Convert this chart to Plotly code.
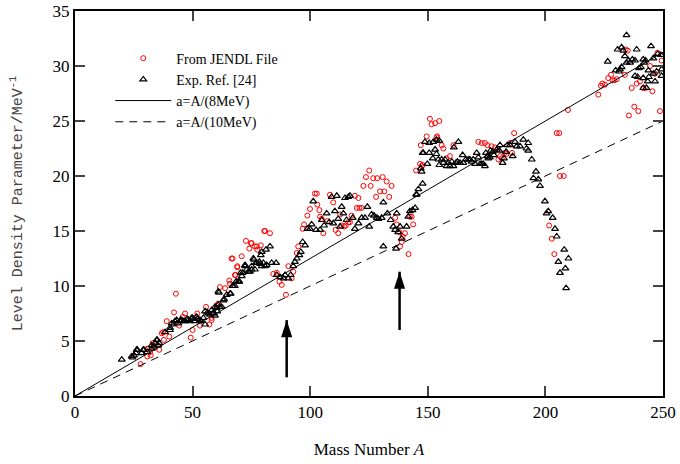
import plotly.graph_objects as go

# ---------------- data ----------------
jendl_A = [27.9,30.7,30.7,31.2,31.9,32.2,33.0,34.0,35.8,36.9,37.5,37.8,39.0,40.1,42.1,42.9,44.3,45.8,46.8,49.2,
           50.0,52.0,53.1,55.7,57.1,58.1,58.1,60.2,60.9,61.6,63.8,65.6,65.9,66.6,67.0,68.0,68.3,69.0,69.0,70.9,
           72.7,74.1,74.8,75.1,76.5,77.3,77.5,79.0,80.5,80.8,82.9,84.3,85.8,86.9,87.9,89.7,90.7,92.1,92.8,94.3,
           94.9,96.8,97.4,98.8,99.9,102.0,102.8,103.0,103.9,104.2,104.9,105.6,107.3,108.4,109.8,110.8,111.9,112.7,113.4,114.5,
           115.1,116.2,116.9,117.6,119.0,119.8,120.5,120.9,121.9,122.6,123.7,125.1,125.7,126.8,128.0,128.5,129.7,130.8,131.5,132.5,
           133.6,134.6,136.1,136.8,137.9,138.2,138.9,139.3,140.3,141.8,142.4,143.1,143.8,145.0,146.7,147.0,147.4,147.8,149.5,150.9,
           151.6,153.1,153.7,154.0,154.9,155.9,156.6,158.0,159.4,160.9,171.5,172.9,174.3,175.3,177.1,178.6,180.0,180.7,181.4,182.8,
           183.5,185.0,185.8,186.7,201.6,202.7,203.8,204.8,205.9,206.2,207.8,209.6,222.5,223.6,224.2,225.3,226.7,227.9,228.5,229.3,
           230.3,233.8,234.1,235.0,235.5,236.7,237.8,238.8,239.5,240.2,241.6,242.6,244.5,245.5,246.6,247.7,248.7,249.4]
jendl_a = [2.9,4.3,3.6,4.3,4.0,3.7,4.8,4.4,4.2,5.7,5.8,5.1,6.8,5.4,7.6,9.3,6.4,7.2,7.5,5.3,
           6.0,7.5,6.4,8.1,6.5,6.9,7.1,8.2,8.4,9.9,9.8,10.5,10.2,12.5,12.5,11.0,11.0,11.7,11.8,12.7,
           14.1,13.4,13.9,13.9,13.6,13.6,13.3,13.7,15.0,15.0,14.8,11.1,11.2,10.4,10.1,9.2,11.8,10.7,11.3,13.0,
           13.6,15.2,15.6,16.4,17.0,18.4,18.4,17.4,16.9,16.3,16.1,14.8,15.9,18.3,17.6,15.1,14.8,16.5,15.5,15.4,
           15.5,15.8,15.8,16.4,18.2,17.1,18.0,17.1,17.1,19.1,19.9,20.5,19.1,19.8,18.1,19.8,18.6,19.9,18.6,19.5,
           18.1,19.1,16.2,15.6,14.9,13.6,14.0,14.5,14.8,12.9,16.3,16.3,15.6,20.5,21.1,22.8,20.9,21.0,23.6,25.2,
           24.7,24.8,23.5,23.6,25.0,22.8,22.5,21.6,21.8,22.8,23.1,23.0,23.0,22.8,22.7,22.6,21.5,21.8,21.6,22.1,
           22.0,23.0,22.1,23.9,15.5,14.3,12.9,23.9,23.9,20.0,20.0,26.0,27.4,28.2,28.4,28.3,28.9,29.2,28.7,28.7,
           28.8,29.2,31.5,31.4,25.5,28.0,26.3,28.4,25.9,28.6,28.0,28.0,30.0,27.7,29.3,31.2,25.9,30.5]

exp_A = [19.9,24.1,24.5,25.1,25.9,26.2,26.5,28.3,29.0,29.3,30.7,32.6,32.6,33.6,34.0,34.7,35.0,35.4,35.8,38.3,
         40.4,40.4,41.1,41.8,42.5,43.2,43.9,44.6,44.9,45.4,46.3,46.8,47.7,48.2,48.9,49.6,50.0,50.6,51.0,51.7,
         52.0,53.1,53.4,54.6,55.3,55.3,56.3,56.7,57.4,58.1,58.5,59.1,59.5,59.5,60.2,60.5,60.9,60.9,61.2,61.6,
         62.4,63.1,63.4,64.5,65.9,66.2,66.9,67.3,68.0,68.5,69.4,69.9,70.4,70.9,71.3,72.3,72.3,73.0,73.7,74.4,
         75.1,75.1,75.8,76.1,76.5,77.0,77.3,78.4,78.7,79.0,79.4,79.4,80.1,80.8,81.2,81.5,82.9,83.6,85.5,85.8,
         87.2,88.6,89.3,90.7,91.7,92.8,93.5,94.3,95.4,96.0,96.8,97.8,98.8,99.9,100.6,101.3,102.5,104.2,104.9,105.9,
         107.0,108.1,109.1,109.8,110.5,111.3,111.9,112.7,113.4,114.1,114.8,115.5,116.2,116.9,118.1,119.0,120.5,121.9,123.3,124.3,
         125.1,126.1,127.1,128.3,129.0,130.4,131.1,131.1,132.8,134.2,135.3,136.1,136.5,136.8,137.4,138.2,138.9,141.0,141.7,142.4,
         143.5,144.6,145.0,145.3,146.0,147.0,147.4,147.8,147.8,148.1,148.8,149.8,150.6,150.6,152.1,152.3,153.1,153.7,153.7,154.5,
         154.9,154.9,155.9,156.6,157.3,158.0,158.7,159.4,160.2,160.9,161.1,162.0,162.6,163.0,163.7,164.8,165.1,166.2,167.2,167.9,
         168.6,169.3,170.1,170.8,171.5,172.2,172.9,173.6,174.3,174.7,175.3,175.7,176.4,176.7,177.6,178.1,179.3,180.4,180.7,181.8,
         182.4,183.3,183.8,185.0,186.1,187.1,187.8,189.2,190.6,192.0,192.7,192.7,194.2,194.9,196.0,197.0,197.7,199.8,200.5,201.2,
         203.1,204.1,204.8,205.5,206.2,208.0,208.5,208.8,209.8,
         226.5,229.9,230.7,231.3,231.7,232.4,232.4,233.1,233.8,234.5,234.5,235.3,236.0,237.0,238.1,238.1,238.8,239.2,239.8,240.6,
         241.6,241.6,241.6,242.0,242.6,243.0,243.5,243.8,244.0,244.9,245.9,245.9,246.6,247.3,247.7,249.1,249.4,249.4]
exp_a = [3.3,3.6,3.5,3.7,3.9,4.2,4.2,3.9,4.2,4.2,4.0,4.6,4.3,4.5,4.8,5.1,5.1,4.6,4.8,5.8,
         6.2,6.0,6.6,6.5,6.8,6.9,6.6,6.8,6.9,6.9,6.8,6.8,7.0,6.9,6.8,7.1,7.1,7.0,6.8,7.2,
         7.0,6.9,6.8,7.1,7.7,6.5,7.6,7.5,7.4,7.8,7.5,7.5,7.3,8.1,8.0,7.7,8.3,9.5,9.4,8.1,
         8.1,8.7,8.8,9.2,9.3,9.3,10.0,10.0,10.0,10.4,10.4,10.4,11.2,10.9,11.2,11.8,11.9,11.5,11.3,11.3,
         11.8,11.5,12.5,12.4,11.5,12.1,12.1,12.2,12.0,12.8,11.8,13.1,12.1,11.8,13.3,11.9,13.6,12.1,12.1,11.0,
         10.8,10.7,11.0,10.7,11.0,11.8,12.2,12.5,12.8,13.1,14.0,13.7,15.2,15.2,15.6,17.7,15.1,15.1,16.0,15.5,
         16.6,15.8,18.1,15.7,16.8,18.2,16.1,15.4,17.2,16.6,18.0,16.0,18.1,18.2,16.2,15.2,15.7,16.2,16.2,17.2,
         15.4,16.5,16.4,16.2,16.1,16.2,17.6,13.6,16.6,16.0,15.4,15.1,13.4,16.6,14.9,15.4,14.3,15.4,16.3,16.8,
         16.9,17.1,18.3,18.3,18.8,20.7,20.4,19.3,22.1,22.1,23.1,21.1,23.0,22.1,21.6,23.1,22.4,23.3,22.0,21.5,
         23.2,21.0,21.5,21.2,21.5,20.9,21.2,20.9,21.3,20.9,22.6,21.2,21.3,23.1,21.2,21.9,21.2,21.5,21.5,21.5,
         21.3,21.5,21.1,22.1,21.7,21.1,21.1,21.1,20.9,22.1,21.8,21.6,21.7,22.3,22.2,21.9,22.4,22.3,22.8,21.2,
         21.6,22.2,22.8,22.8,21.8,23.1,22.7,22.7,23.3,22.5,23.0,22.3,21.5,19.8,20.4,19.7,19.1,17.7,16.6,16.8,
         16.2,15.2,14.5,12.2,11.2,13.3,11.6,9.8,12.5,
         30.4,29.6,31.5,29.5,29.7,31.7,29.9,31.4,30.9,32.8,30.3,30.5,30.3,30.6,30.5,29.1,31.5,29.0,29.8,29.9,
         30.6,28.9,28.0,30.3,30.5,28.0,28.6,29.6,29.0,31.8,30.7,29.3,28.6,29.5,31.1,31.0,29.7,29.1]

line_A = [0, 250]
line_a8 = [0, 31.25]    # a = A/(8 MeV)
line_a10 = [0, 25.0]    # a = A/(10 MeV)

arrow_A = [90, 138]
arrow_tail = [1.7, 6.0]
arrow_head = [6.9, 11.3]

x_ticks = [0, 50, 100, 150, 200, 250]
y_ticks = [0, 5, 10, 15, 20, 25, 30, 35]

SERIF = "Liberation Serif, Times New Roman, serif"

fig = go.Figure()
fig.add_trace(go.Scatter(x=jendl_A, y=jendl_a, mode="markers", name="From JENDL File",
                         marker=dict(symbol="circle-open", color="#ff0000", size=5, line=dict(width=1))))
fig.add_trace(go.Scatter(x=exp_A, y=exp_a, mode="markers", name="Exp. Ref. [24]",
                         marker=dict(symbol="triangle-up-open", color="#000000", size=6, line=dict(width=1.2))))
fig.add_trace(go.Scatter(x=line_A, y=line_a8, mode="lines", name="a=A/(8MeV)",
                         line=dict(color="black", width=1)))
fig.add_trace(go.Scatter(x=line_A, y=line_a10, mode="lines", name="a=A/(10MeV)",
                         line=dict(color="black", width=1, dash="8px,6px")))

# arrows: shaft + arrowhead marker at the head end
for xa, yt, yh in zip(arrow_A, arrow_tail, arrow_head):
    fig.add_trace(go.Scatter(x=[xa, xa], y=[yt, yh], mode="lines", showlegend=False,
                             hoverinfo="skip", line=dict(color="black", width=2.5)))
    fig.add_trace(go.Scatter(x=[xa], y=[yh], mode="markers", showlegend=False, hoverinfo="skip",
                             marker=dict(symbol="arrow", size=18, color="black",
                                         line=dict(width=0))))

fig.update_layout(
    width=680, height=464,
    margin=dict(l=75, r=17, t=11, b=68),
    plot_bgcolor="white", paper_bgcolor="white",
    font=dict(family=SERIF, size=16, color="black"),
    showlegend=True,
    legend=dict(x=0.060, y=0.918, xanchor="left", yanchor="top",
                bgcolor="rgba(0,0,0,0)", font=dict(family=SERIF, size=14),
                tracegroupgap=0, itemwidth=56),
    xaxis=dict(range=[0, 250], tickvals=x_ticks, ticks="inside", ticklen=10, tickwidth=2,
               showline=True, linewidth=2, linecolor="black", mirror="ticks",
               showgrid=False, zeroline=False, automargin=False,
               tickfont=dict(family=SERIF, size=17),
               title=dict(text="Mass Number <i>A</i>", font=dict(family=SERIF, size=17), standoff=22)),
    yaxis=dict(range=[0, 35], tickvals=y_ticks, ticks="inside", ticklen=10, tickwidth=2,
               showline=True, linewidth=2, linecolor="black", mirror="ticks",
               showgrid=False, zeroline=False, automargin=False,
               tickfont=dict(family=SERIF, size=17),
               title=dict(text="Level Density Parameter/MeV<sup>-1</sup>",
                          font=dict(family="Liberation Mono, Courier New, monospace", size=15, color="#444"),
                          standoff=26)),
)

# remove the page's default 8 px body margin so the figure fills the window exactly
fig.write_html("out.html", config={"displayModeBar": False},
               post_script="document.body.style.margin='0';")
